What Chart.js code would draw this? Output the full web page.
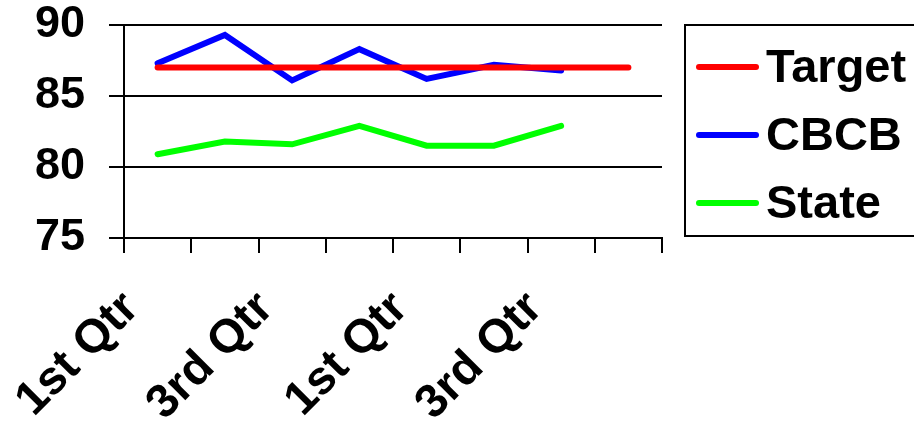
<!DOCTYPE html>
<html>
<head>
<meta charset="utf-8">
<script src="https://cdn.jsdelivr.net/npm/chart.js@4.4.0/dist/chart.umd.min.js"></script>
<style>
  html, body { margin: 0; padding: 0; background: #fff; }
  #wrap { width: 914px; height: 427px; }
</style>
</head>
<body>
<div id="wrap"><canvas id="qtrChart" width="914" height="427"></canvas></div>
<script>
// datos
const quarterLabels = ['1st Qtr', '2nd Qtr', '3rd Qtr', '4th Qtr', '1st Qtr', '2nd Qtr', '3rd Qtr', '4th Qtr'];
const targetValues = [87, 87, 87, 87, 87, 87, 87, 87];
const cbcbValues = [87.3, 89.3, 86.1, 88.3, 86.2, 87.2, 86.8, null];
const stateValues = [80.9, 81.8, 81.6, 82.9, 81.5, 81.5, 82.9, null];
const yTicks = [75, 80, 85, 90];

const FONT = '"Liberation Sans", Arial, sans-serif';

// leyenda propia con marco (la de Chart.js no dibuja el recuadro)
const boxedLegend = {
    id: 'boxedLegend',
    afterDraw(chart) {
        const ctx = chart.ctx;
        const boxX = 685, boxY = 25, boxH = 211;
        ctx.save();
        ctx.strokeStyle = '#000';
        ctx.lineWidth = 2;
        ctx.strokeRect(boxX, boxY, 260, boxH);
        ctx.font = 'bold 47px ' + FONT;
        ctx.textBaseline = 'middle';
        ctx.textAlign = 'left';
        chart.data.datasets.forEach(function(ds, i) {
            const y = 67 + i * 68;
            ctx.strokeStyle = ds.borderColor;
            ctx.lineWidth = 6;
            ctx.lineCap = 'round';
            ctx.beginPath();
            ctx.moveTo(699, y);
            ctx.lineTo(756, y);
            ctx.stroke();
            ctx.fillStyle = '#000';
            ctx.fillText(ds.label, 766, y + 2);
        });
        ctx.restore();
    }
};

const ctxQtr = document.getElementById('qtrChart');
new Chart(ctxQtr, {
    type: 'line',
    data: {
        labels: quarterLabels,
        datasets: [
            { label: 'Target', data: targetValues, borderColor: '#ff0000' },
            { label: 'CBCB', data: cbcbValues, borderColor: '#0000ff' },
            { label: 'State', data: stateValues, borderColor: '#00ff00' }
        ]
    },
    options: {
        responsive: false,
        animation: false,
        layout: { padding: { top: 25, right: 252, left: 0, bottom: 0 } },
        elements: {
            line: { borderWidth: 6, tension: 0, borderCapStyle: 'round', borderJoinStyle: 'miter', fill: false },
            point: { radius: 0, hoverRadius: 0 }
        },
        plugins: {
            legend: { display: false },
            tooltip: { enabled: false }
        },
        scales: {
            x: {
                offset: true,
                grid: {
                    offset: true,
                    drawOnChartArea: true,
                    color: function(c) { return c.index === quarterLabels.length ? '#000' : 'rgba(0,0,0,0)'; },
                    tickColor: '#000',
                    tickLength: 15,
                    lineWidth: 2,
                    tickWidth: 2
                },
                border: { display: true, color: '#000', width: 2 },
                ticks: {
                    autoSkip: false,
                    maxRotation: 45,
                    minRotation: 45,
                    padding: 28,
                    labelOffset: -26,
                    color: '#000',
                    font: { family: FONT, size: 47, weight: 'bold' },
                    callback: function(v, i) { return i % 2 === 0 ? quarterLabels[i] : ''; }
                },
                afterFit: function(scale) {
                    scale.height = 427 - 238;
                    scale.paddingLeft = 0;
                    scale.paddingRight = 0;
                }
            },
            y: {
                min: yTicks[0],
                max: yTicks[yTicks.length - 1],
                afterBuildTicks: function(scale) { scale.ticks = yTicks.map(function(v) { return { value: v }; }); },
                grid: {
                    color: '#000',
                    lineWidth: 2,
                    tickLength: 15
                },
                border: { display: true, color: '#000', width: 2 },
                ticks: {
                    padding: 24,
                    color: '#000',
                    font: { family: FONT, size: 45, weight: 'bold' }
                },
                afterFit: function(scale) {
                    scale.width = 124;
                    scale.paddingTop = 0;
                    scale.paddingBottom = 0;
                }
            }
        }
    },
    plugins: [boxedLegend]
});
</script>
</body>
</html>
